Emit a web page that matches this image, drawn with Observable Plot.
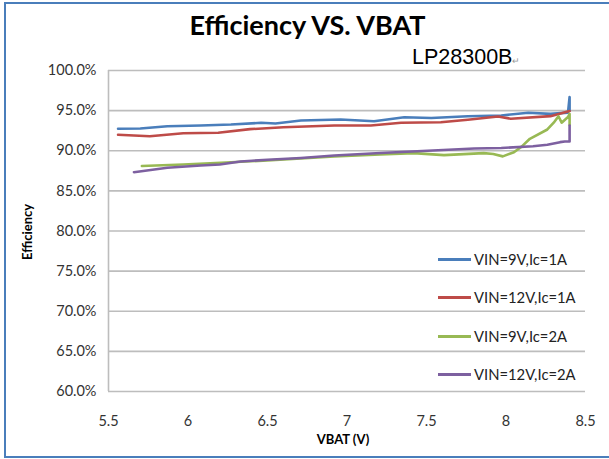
<!DOCTYPE html>
<html>
<head>
<meta charset="utf-8">
<script src="https://cdn.jsdelivr.net/npm/d3@7"></script>
<script src="https://cdn.jsdelivr.net/npm/@observablehq/plot@0.6"></script>
<style>
  html, body { margin: 0; padding: 0; background: #fff; }
  #wrap { position: relative; width: 609px; height: 459px; overflow: hidden; font-family: Lato, "Open Sans", sans-serif; }
  #frame { position: absolute; left: 4px; top: 2px; width: 640px; height: 452px; border: 2px solid #4a7ebb; box-sizing: content-box; }
  #title { position: absolute; left: 0; width: 609px; top: 8px; text-align: center; font-size: 27px; font-weight: bold; color: #000; padding-left: 6px; box-sizing: border-box; }
  #sub { position: absolute; left: 412px; top: 45px; font-family: "Liberation Sans", Arial, sans-serif; font-size: 21.5px; color: #000; }
  #sub span { font-size: 9px; color: #999; }
  #ylab { position: absolute; left: 27px; top: 232px; transform: translate(-50%, -50%) rotate(-90deg); font-size: 13px; font-weight: bold; color: #000; white-space: nowrap; }
  #xlab { position: absolute; left: 343px; top: 431px; transform: translateX(-50%); font-size: 13px; font-weight: bold; color: #000; white-space: nowrap; }
  .leg { position: absolute; font-size: 14.8px; color: #222; white-space: nowrap; }
  .leg i { position: absolute; left: -36px; top: 50%; width: 33px; height: 3px; margin-top: -1.5px; }
  svg { position: absolute; left: 0; top: 0; }
</style>
</head>
<body>
<div id="wrap"></div>
<script>
// ---- data ----
const seriesNames = ["VIN=9V,Ic=1A", "VIN=12V,Ic=1A", "VIN=9V,Ic=2A", "VIN=12V,Ic=2A"];
const seriesColors = ["#4a7ebb", "#be4b48", "#98b954", "#7d60a0"];

const vbat_9V_1A = [5.56, 5.70, 5.87, 6.08, 6.27, 6.46, 6.55, 6.71, 6.96, 7.17, 7.36, 7.53, 7.76, 7.97, 8.14, 8.28, 8.39, 8.40, 8.40];
const eff_9V_1A  = [92.74, 92.77, 93.06, 93.15, 93.27, 93.48, 93.40, 93.77, 93.90, 93.68, 94.18, 94.08, 94.30, 94.40, 94.73, 94.60, 94.75, 96.70, 95.00];

const vbat_12V_1A = [5.56, 5.76, 5.97, 6.19, 6.39, 6.60, 6.92, 7.15, 7.34, 7.59, 7.76, 7.95, 8.03, 8.28, 8.40];
const eff_12V_1A  = [91.99, 91.81, 92.19, 92.24, 92.69, 92.93, 93.15, 93.15, 93.48, 93.56, 93.86, 94.27, 93.98, 94.31, 94.95];

const vbat_9V_2A = [5.71, 5.97, 6.24, 6.50, 6.71, 6.92, 7.21, 7.42, 7.61, 7.86, 7.92, 7.98, 8.05, 8.10, 8.15, 8.26, 8.30, 8.33, 8.35, 8.39, 8.40, 8.40];
const eff_9V_2A  = [88.10, 88.29, 88.54, 88.79, 89.03, 89.28, 89.53, 89.70, 89.45, 89.70, 89.60, 89.30, 89.82, 90.55, 91.49, 92.65, 93.50, 94.30, 93.50, 94.20, 94.60, 93.20];

const vbat_12V_2A = [5.66, 5.87, 6.08, 6.20, 6.33, 6.50, 6.71, 6.92, 7.21, 7.54, 7.80, 7.97, 8.17, 8.26, 8.34, 8.37, 8.40, 8.40];
const eff_12V_2A  = [87.33, 87.88, 88.16, 88.29, 88.66, 88.87, 89.10, 89.41, 89.72, 90.03, 90.28, 90.34, 90.57, 90.74, 91.07, 91.15, 91.15, 93.15];

const xTicks = [5.5, 6, 6.5, 7, 7.5, 8, 8.5];
const yTicks = [60, 65, 70, 75, 80, 85, 90, 95, 100];

const titleText = "Efficiency VS. VBAT";
const subText = "LP28300B";
const xLabel = "VBAT (V)";
const yLabel = "Efficiency";

// ---- build table ----
const seriesX = [vbat_9V_1A, vbat_12V_1A, vbat_9V_2A, vbat_12V_2A];
const seriesY = [eff_9V_1A, eff_12V_1A, eff_9V_2A, eff_12V_2A];
const rows = [];
seriesNames.forEach((name, s) => {
  seriesX[s].forEach((v, i) => rows.push({series: name, vbat: v, eff: seriesY[s][i]}));
});

const plot = Plot.plot({
  width: 609,
  height: 459,
  marginLeft: 108,
  marginRight: 24,
  marginTop: 70,
  marginBottom: 68,
  style: {fontFamily: "Lato, 'Open Sans', sans-serif", background: "transparent", color: "#333"},
  x: {domain: [5.5, 8.5]},
  y: {domain: [60, 100]},
  color: {domain: seriesNames, range: seriesColors},
  marks: [
    Plot.gridY(yTicks, {stroke: "#bdbdbd", strokeOpacity: 1, strokeWidth: 1.6}),
    Plot.ruleX([5.5], {stroke: "#bdbdbd", strokeWidth: 1.6}),
    Plot.axisY(yTicks, {tickSize: 0, tickPadding: 12, fontSize: 14.5, label: null, tickFormat: d => d.toFixed(1) + "%", fill: "#333"}),
    Plot.axisX(xTicks, {tickSize: 0, tickPadding: 24, fontSize: 14.5, label: null, tickFormat: d => String(d), fill: "#333"}),
    Plot.line(rows, {x: "vbat", y: "eff", z: "series", stroke: "series", strokeWidth: 2.6, curve: "linear"})
  ]
});

const wrap = document.getElementById("wrap");
wrap.appendChild(plot);

const frame = document.createElement("div"); frame.id = "frame"; wrap.appendChild(frame);
const t = document.createElement("div"); t.id = "title"; t.textContent = titleText; wrap.appendChild(t);
const sb = document.createElement("div"); sb.id = "sub"; sb.textContent = subText;
const mark = document.createElement("span"); mark.textContent = "\u21B5"; sb.appendChild(mark); wrap.appendChild(sb);
const yl = document.createElement("div"); yl.id = "ylab"; yl.textContent = yLabel; wrap.appendChild(yl);
const xl = document.createElement("div"); xl.id = "xlab"; xl.textContent = xLabel; wrap.appendChild(xl);

const legTops = [259, 297, 336, 374];
seriesNames.forEach((name, i) => {
  const d = document.createElement("div");
  d.className = "leg";
  d.style.left = "474px";
  d.style.top = legTops[i] + "px";
  d.style.transform = "translateY(-50%)";
  const sw = document.createElement("i");
  sw.style.background = seriesColors[i];
  d.appendChild(sw);
  d.appendChild(document.createTextNode(name));
  wrap.appendChild(d);
});
</script>
</body>
</html>
